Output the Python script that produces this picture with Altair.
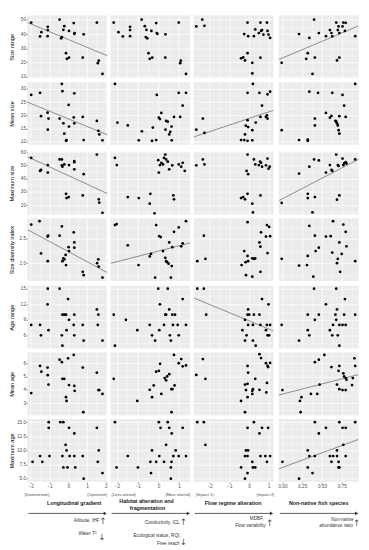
import altair as alt
import pandas as pd

FONT = "Liberation Sans"

# ---------------- axes / labels ----------------
row_titles = ["Size range", "Mean size", "Maximum size", "Size diversity index",
              "Age range", "Mean age", "Maximum age"]
row_ticks = [[10, 20, 30, 40, 50], [10, 15, 20, 25, 30], [20, 30, 40, 50, 60], [2.0, 2.5],
             [6, 9, 12, 15], [3, 4, 5, 6], [5.0, 7.5, 10.0, 12.5, 15.0]]
row_minor = [[15, 25, 35, 45], [12.5, 17.5, 22.5, 27.5], [15, 25, 35, 45, 55], [1.75, 2.25, 2.75],
             [4.5, 7.5, 10.5, 13.5], [2.5, 3.5, 4.5, 5.5, 6.5], [6.25, 8.75, 11.25, 13.75]]
row_domains = [[9, 53], [8.9, 32.5], [13, 60.3], [1.63, 2.93], [3.45, 15.55], [2.1, 6.8], [4.45, 15.55]]
row_formats = ["d", "d", "d", ".1f", "d", "d", ".1f"]
col_ticks = [[-2, -1, 0, 1, 2], [-2, -1, 0, 1], [-2, -1, 0, 1], [0, 0.25, 0.5, 0.75]]
col_minor = [[-1.5, -0.5, 0.5, 1.5], [-1.5, -0.5, 0.5, 1.5], [-2.5, -1.5, -0.5, 0.5],
             [0.125, 0.375, 0.625, 0.875]]
col_domains = [[-2.17, 2.07], [-2.31, 1.54], [-2.8, 1.23], [-0.046, 0.963]]
col_formats = ["d", "d", "d", ".2f"]

col_names = [["Longitudinal gradient"], ["Habitat alteration and", "fragmentation"],
             ["Flow regime alteration"], ["Non-native fish species"]]
end_low = ["(Downstream)", "(Less altered)", "(Impact 1)", ""]
end_high = ["(Upstream)", "(More altered)", "(Impact 2)", ""]
up_notes = [["Altitude, IHF"], ["Conductivity, ICL"], ["MDBF,", "Flow variability"],
            ["Non-native", "abundance ratio"]]
down_notes = [["Water Tª"], ["Ecological status, RQI,", "Free reach"], [], []]

# ---------------- data: size range ----------------
sr_lg_x = [-1.97, -1.50, -1.43, -1.09, -1.09, -1.10, -0.46, -0.34, -0.38, -0.26, -0.21, -0.12, -0.07, 0.04, 0.04, 0.29, 0.34, 0.32, 0.77, 0.82, 1.52, 1.62, 1.57, 1.82]
sr_lg_y = [48.1, 38.3, 41.3, 45.1, 42.8, 38.5, 50.2, 37.9, 37.0, 43.0, 45.5, 26.6, 22.6, 23.5, 42.2, 47.7, 40.7, 40.2, 23.5, 39.8, 48.1, 21.3, 19.6, 12.0]
sr_ha_x = [-2.16, -1.93, -1.72, -1.37, -1.37, -1.37, -0.81, -0.66, -0.58, -0.61, -0.54, -0.48, -0.42, -0.30, -0.34, -0.11, -0.08, -0.05, 0.34, 0.33, 0.98, 1.05, 1.08, 1.33]
sr_ha_y = [48.1, 41.3, 38.3, 45.1, 42.8, 38.5, 50.2, 45.5, 43.0, 37.9, 37.0, 26.6, 22.6, 23.5, 42.2, 47.7, 40.7, 40.2, 39.8, 23.5, 48.1, 19.6, 21.3, 12.0]
sr_fr_x = [-2.67, -2.37, -2.26, -0.25, -0.08, -0.05, 0.24, 0.31, 0.49, 0.57, 0.60, 0.65, 0.72, 0.90, 0.93, 0.98, 1.06, -0.41, -0.30, -0.21, -0.08, 0.16, 0.16, 0.57]
sr_fr_y = [45.3, 50.2, 45.8, 40.0, 48.1, 38.5, 38.5, 43.2, 40.7, 48.1, 42.2, 42.8, 39.6, 48.1, 42.2, 39.6, 37.3, 23.0, 23.6, 21.5, 26.6, 19.8, 12.4, 23.4]
sr_nn_x = [-0.01, 0.21, 0.34, 0.32, 0.30, 0.40, 0.41, 0.46, 0.38, 0.55, 0.60, 0.62, 0.63, 0.68, 0.69, 0.70, 0.71, 0.72, 0.72, 0.76, 0.77, 0.79, 0.80, 0.92]
sr_nn_y = [19.8, 40.0, 37.3, 26.6, 22.6, 50.2, 23.5, 40.7, 12.0, 38.5, 42.8, 40.7, 38.3, 48.1, 21.5, 42.8, 45.3, 23.5, 40.7, 45.3, 48.1, 42.2, 47.9, 38.5]

# ---------------- data: mean size ----------------
ms_lg_x = [-1.97, -1.50, -1.45, -1.10, -1.05, -1.09, -0.46, -0.34, -0.31, -0.26, -0.21, -0.12, -0.09, 0.02, 0.04, 0.29, 0.32, 0.32, 0.77, 0.82, 1.52, 1.60, 1.65, 1.82]
ms_lg_y = [27.7, 28.5, 19.7, 21.0, 18.8, 14.6, 18.8, 31.8, 29.1, 17.0, 13.1, 10.4, 10.7, 23.9, 15.8, 19.2, 17.0, 28.3, 19.4, 10.7, 17.9, 14.2, 12.8, 10.6]
ms_ha_x = [-2.10, -1.98, -1.48, -0.95, -0.80, -0.31, -0.27, -0.11, -0.08, 0.02, 0.07, 0.14, 0.34, 0.37, 0.45, 0.52, 0.57, 0.63, 0.64, 0.75, 0.98, 1.05, 1.17, 1.33]
ms_ha_y = [31.8, 17.3, 16.2, 10.6, 14.0, 10.4, 15.4, 10.7, 27.7, 19.1, 18.6, 20.9, 14.6, 17.9, 17.6, 12.8, 13.8, 15.8, 10.6, 19.4, 28.5, 19.4, 23.7, 28.5]
ms_fr_x = [-2.67, -2.34, -2.26, -0.41, -0.25, -0.21, -0.17, -0.08, -0.08, -0.08, -0.05, 0.16, 0.16, 0.19, 0.33, 0.52, 0.57, 0.65, 0.85, 0.90, 0.93, 0.93, 1.06]
ms_fr_y = [14.6, 18.8, 13.4, 10.7, 10.7, 12.8, 16.1, 28.5, 18.2, 10.4, 15.6, 14.4, 10.6, 31.8, 17.3, 28.5, 19.4, 23.7, 19.4, 20.0, 18.8, 27.9, 28.9]
ms_nn_x = [-0.01, 0.21, 0.32, 0.32, 0.34, 0.45, 0.63, 0.76, 0.92, 0.55, 0.60, 0.62, 0.67, 0.69, 0.70, 0.72, 0.78, 0.80, 0.41, 0.41, 0.71, 0.72, 0.68]
ms_nn_y = [14.4, 10.7, 10.9, 10.4, 28.9, 28.5, 28.5, 27.7, 31.8, 20.9, 19.1, 19.8, 17.9, 17.0, 16.2, 19.7, 23.7, 19.4, 18.8, 16.2, 14.4, 13.1, 17.6]

# ---------------- data: maximum size ----------------
mx_lg_x = [-1.97, -1.50, -1.45, -1.09, -1.09, -0.46, -0.34, -0.31, -0.34, -0.21, -0.12, -0.09, 0.02, 0.04, 0.32, 0.32, 0.32, 0.77, 0.82, 1.52, 1.62, 1.65, 1.82]
mx_lg_y = [55.6, 45.8, 46.5, 44.5, 50.2, 54.4, 54.4, 49.0, 50.0, 50.7, 28.5, 25.3, 26.1, 50.2, 53.2, 52.4, 47.0, 27.3, 43.3, 58.1, 24.4, 21.9, 14.2]
mx_ha_x = [-2.10, -2.01, -1.48, -0.95, -0.42, -0.39, -0.19, -0.01, 0.02, 0.07, 0.14, 0.22, 0.27, 0.33, 0.37, 0.45, 0.52, 0.67, 0.72, 0.75, 0.98, 1.10, 1.17, 1.27]
mx_ha_y = [55.6, 50.2, 26.1, 25.3, 21.1, 28.5, 13.8, 53.9, 44.5, 50.2, 51.9, 50.7, 55.6, 58.1, 54.4, 52.7, 47.0, 50.0, 27.3, 24.4, 50.7, 49.0, 51.9, 45.8]
mx_fr_x = [-2.67, -2.34, -2.26, -0.08, 0.24, 0.31, 0.49, 0.55, 0.60, 0.65, 0.85, 0.93, 0.98, 1.04, -0.13, -0.05, -0.41, -0.30, -0.21, -0.08, 0.16, 0.19, 0.57]
mx_fr_y = [50.0, 54.4, 50.7, 58.1, 54.4, 50.7, 50.2, 52.7, 51.9, 49.0, 50.0, 55.1, 47.5, 49.0, 45.8, 43.3, 25.3, 26.1, 24.4, 28.5, 21.1, 14.5, 27.3]
mx_nn_x = [-0.01, 0.21, 0.34, 0.32, 0.32, 0.40, 0.41, 0.38, 0.46, 0.55, 0.60, 0.62, 0.63, 0.68, 0.69, 0.70, 0.72, 0.76, 0.77, 0.78, 0.80, 0.81, 0.92, 0.71]
mx_nn_y = [21.6, 43.8, 49.0, 28.5, 25.3, 54.4, 26.1, 14.5, 53.7, 44.5, 50.2, 46.5, 45.8, 58.1, 24.1, 50.2, 27.3, 55.1, 50.2, 51.4, 52.4, 51.4, 54.4, 49.5]

# ---------------- data: size diversity index ----------------
sd_lg_x = [-1.97, -1.53, -1.45, -1.10, -1.07, -1.09, -0.46, -0.34, -0.31, -0.26, -0.21, -0.14, -0.12, 0.02, 0.04, 0.29, 0.32, 0.32, 0.77, 0.82, 1.53, 1.60, 1.62, 1.82]
sd_lg_y = [2.80, 2.87, 2.20, 2.55, 2.57, 2.04, 2.57, 2.76, 2.04, 2.10, 2.08, 2.17, 1.96, 2.33, 2.25, 2.64, 2.43, 2.32, 1.82, 1.75, 2.00, 2.08, 1.93, 1.70]
sd_ha_x = [-2.10, -2.02, -1.48, -0.96, -0.42, -0.36, -0.11, 0.04, 0.11, 0.22, 0.33, 0.37, 0.42, 0.49, 0.52, 0.64, 0.67, 0.75, 0.98, 1.10, 1.17, 1.33, -0.16, 0.60]
sd_ha_y = [2.79, 2.81, 2.37, 1.96, 2.14, 2.19, 2.79, 2.56, 2.54, 2.25, 2.11, 2.04, 2.02, 1.99, 2.43, 1.94, 2.33, 2.65, 2.74, 2.35, 2.41, 2.87, 1.70, 1.70]
sd_fr_x = [-2.62, -2.29, -2.21, -0.38, -0.25, -0.18, -0.08, -0.08, -0.05, 0.16, 0.24, 0.31, 0.52, 0.57, 0.60, 0.85, 0.90, 0.93, 1.01, 1.06, -0.16, 0.16, 0.57]
sd_fr_y = [2.04, 2.57, 2.09, 1.96, 2.25, 2.02, 2.85, 2.15, 2.04, 2.10, 2.09, 2.10, 2.43, 2.34, 2.64, 2.55, 2.79, 2.21, 2.75, 2.56, 1.75, 1.72, 1.82]
sd_nn_x = [-0.01, 0.21, 0.31, 0.32, 0.34, 0.39, 0.41, 0.42, 0.46, 0.55, 0.61, 0.63, 0.64, 0.69, 0.70, 0.72, 0.73, 0.75, 0.77, 0.80, 0.81, 0.92]
sd_nn_y = [2.09, 1.95, 1.96, 2.15, 2.77, 1.72, 2.57, 2.25, 2.32, 2.55, 2.56, 2.22, 2.87, 2.00, 2.09, 2.43, 1.82, 2.19, 2.80, 2.65, 2.35, 2.04]

# ---------------- data: age range ----------------
ar_lg_x = [-1.97, -1.50, -1.45, -1.10, -1.09, -1.05, -0.46, -0.34, -0.31, -0.31, -0.21, -0.12, -0.09, -0.01, 0.04, 0.29, 0.32, 0.32, 0.77, 0.82, 1.52, 1.60, 1.57, 1.82]
ar_lg_y = [8, 8, 6, 12, 15, 7, 15, 6, 10, 4, 10, 10, 7, 13, 9, 8, 10, 6, 8, 5, 11, 10, 8, 5]
ar_ha_x = [-2.16, -2.10, -1.57, -1.02, -0.42, -0.31, -0.16, -0.01, 0.04, 0.07, 0.27, 0.33, 0.37, 0.45, 0.52, 0.55, 0.60, 0.70, 0.80, 0.93, 0.98, 1.17, 1.33, 0.67]
ar_ha_y = [10, 4, 9, 7, 8, 6, 5, 15, 7, 12, 8, 10, 10, 15, 11, 6, 5, 8, 10, 8, 6, 13, 8, 10]
ar_fr_x = [-2.62, -2.29, -2.17, -0.05, -0.08, 0.00, -0.21, 0.65, 0.98, 0.24, 0.52, -0.34, -0.05, 0.19, 0.57, 0.90, 0.85, -0.13, 0.93, 1.01, 1.06, -0.21, 0.19, 0.33]
ar_fr_y = [15, 15, 10, 11, 10, 10, 9, 13, 12, 10, 10, 7, 8, 8, 8, 8, 7, 6, 6, 6, 8, 5, 5, 4]
ar_nn_x = [-0.01, 0.21, 0.32, 0.34, 0.32, 0.40, 0.41, 0.46, 0.55, 0.60, 0.63, 0.64, 0.68, 0.69, 0.67, 0.72, 0.70, 0.72, 0.76, 0.78, 0.79, 0.80, 0.92, 0.68]
ar_nn_y = [8, 5, 7, 6, 10, 15, 9, 10, 12, 7, 6, 8, 15, 11, 10, 8, 6, 4, 8, 10, 13, 8, 10, 9]

# ---------------- data: mean age ----------------
ma_lg_x = [-1.97, -1.50, -1.43, -1.10, -1.09, -1.05, -0.46, -0.34, -0.31, -0.21, -0.01, 0.04, 0.29, 0.32, 0.34, 0.77, 1.52, 1.60, 1.65, 1.82, -0.12, -0.09, 0.80]
ma_lg_y = [3.76, 5.79, 5.36, 5.67, 5.10, 4.40, 6.26, 6.07, 4.83, 4.83, 6.36, 4.36, 6.62, 4.29, 3.93, 5.67, 5.29, 3.98, 3.98, 3.69, 3.45, 3.17, 2.33]
ma_ha_x = [-2.16, -1.02, -0.42, -0.31, -0.23, -0.11, 0.02, 0.08, 0.14, 0.30, 0.37, 0.42, 0.52, 0.63, 0.63, 0.67, 0.75, 0.78, 0.98, 1.10, 1.17, 1.33]
ma_ha_y = [4.83, 3.17, 4.00, 3.45, 4.33, 5.36, 5.43, 5.95, 3.69, 4.88, 4.71, 5.00, 5.17, 4.05, 2.33, 4.05, 6.62, 4.33, 6.00, 6.31, 5.76, 5.83]
ma_fr_x = [-2.67, -2.34, -2.21, -0.21, -0.16, -0.08, -0.05, -0.08, 0.16, 0.19, 0.31, 0.52, 0.60, 0.52, 0.85, 0.93, 0.96, 1.06, 0.87, 0.90, -0.41, -0.21, -0.08, 0.16]
ma_fr_y = [5.12, 6.31, 4.83, 4.40, 3.98, 5.79, 5.29, 4.45, 3.93, 4.05, 4.83, 6.67, 6.38, 4.00, 6.00, 5.79, 5.71, 6.02, 3.81, 4.52, 3.17, 2.33, 3.45, 3.69]
ma_nn_x = [0.00, 0.36, 0.41, 0.46, 0.47, 0.53, 0.62, 0.72, 0.71, 0.77, 0.78, 0.80, 0.81, 0.89, 0.69, 0.72, 0.76, 0.80, 0.88, 0.91, 0.92, 0.22, 0.24, 0.44, 0.23]
ma_nn_y = [3.98, 3.69, 6.07, 6.26, 4.40, 6.62, 5.71, 5.79, 5.43, 5.24, 5.00, 4.88, 4.76, 4.88, 4.40, 4.05, 3.98, 3.98, 4.36, 6.36, 5.79, 3.17, 3.45, 3.69, 2.33]

# ---------------- data: maximum age ----------------
xa_lg_x = [-1.90, -1.50, -1.38, -1.04, -1.04, -1.00, -0.42, -0.26, -0.31, -0.26, -0.14, -0.09, -0.04, 0.04, 0.07, 0.32, 0.32, 0.37, 0.77, 0.82, 1.52, 1.57, 1.62, 1.82]
xa_lg_y = [8, 9, 8, 15, 14, 9, 15, 15, 9, 7, 11, 10, 7, 14, 9, 13, 9, 7, 9, 5, 14, 8, 10, 6]
xa_ha_x = [-2.10, -2.02, -1.48, -0.99, -0.36, -0.39, -0.31, -0.11, 0.02, 0.10, 0.04, 0.27, 0.37, 0.45, 0.52, 0.60, 0.60, 0.64, 0.63, 0.72, 0.83, 0.98, 1.17, 1.33]
xa_ha_y = [15, 7, 9, 7, 6, 8, 10, 8, 15, 14, 9, 8, 11, 15, 14, 7, 5, 13, 8, 9, 10, 9, 14, 9]
xa_fr_x = [-2.62, -2.29, -2.21, -0.08, 0.24, 0.65, 0.96, 0.52, -0.16, -0.05, -0.21, -0.08, 0.57, 0.82, 1.06, 0.16, 0.90, -0.41, 0.31, 0.19, -0.08, -0.21]
xa_fr_y = [15, 15, 11, 14, 15, 14, 14, 13, 10, 10, 9, 9, 9, 9, 9, 8, 8, 7, 7, 7, 6, 5]
xa_nn_x = [0.00, 0.21, 0.32, 0.32, 0.34, 0.38, 0.41, 0.41, 0.46, 0.55, 0.60, 0.62, 0.64, 0.69, 0.69, 0.71, 0.71, 0.72, 0.72, 0.76, 0.77, 0.80, 0.92, 0.80]
xa_nn_y = [8, 5, 7, 10, 9, 6, 15, 9, 13, 14, 9, 8, 9, 9, 10, 8, 7, 7, 15, 14, 11, 9, 15, 14]

# ---------------- fitted linear trends (intercept, slope) ----------------
fit_row = [0, 0, 1, 1, 2, 2, 3, 3, 4, 5, 6]
fit_col = [0, 3, 0, 2, 0, 3, 0, 1, 2, 3, 3]
fit_a = [36.2, 23.2, 18.7, 18.85, 42.3, 24.8, 2.24, 2.25, 8.8, 3.68, 7.0]
fit_b = [-5.49, 23.4, -2.89, 2.49, -6.54, 30.9, -0.21, 0.11, -1.58, 1.52, 5.15]

panel_x = [[sr_lg_x, sr_ha_x, sr_fr_x, sr_nn_x], [ms_lg_x, ms_ha_x, ms_fr_x, ms_nn_x],
           [mx_lg_x, mx_ha_x, mx_fr_x, mx_nn_x], [sd_lg_x, sd_ha_x, sd_fr_x, sd_nn_x],
           [ar_lg_x, ar_ha_x, ar_fr_x, ar_nn_x], [ma_lg_x, ma_ha_x, ma_fr_x, ma_nn_x],
           [xa_lg_x, xa_ha_x, xa_fr_x, xa_nn_x]]
panel_y = [[sr_lg_y, sr_ha_y, sr_fr_y, sr_nn_y], [ms_lg_y, ms_ha_y, ms_fr_y, ms_nn_y],
           [mx_lg_y, mx_ha_y, mx_fr_y, mx_nn_y], [sd_lg_y, sd_ha_y, sd_fr_y, sd_nn_y],
           [ar_lg_y, ar_ha_y, ar_fr_y, ar_nn_y], [ma_lg_y, ma_ha_y, ma_fr_y, ma_nn_y],
           [xa_lg_y, xa_ha_y, xa_fr_y, xa_nn_y]]

W, H = 82, 64.5

# layout of the annotation block under each column (pixels relative to panel)
title_pos = [[(48, 86)], [(37, 84), (38, 91)], [(40.5, 86)], [(41, 86)]]
low_pos = [-3, 1, 2, 0]
high_pos = [82, 82, 83, 82]
up_pos = [[(74, 105)], [(71, 107)], [(72, 103), (74, 110)], [(77, 104), (76, 110)]]
up_arrow = [(77.5, 105), (75, 106), (78, 106.5), (80, 107)]
down_pos = [[(71, 118)], [(72, 120), (71, 128)], [], []]
down_arrow = [(76.7, 121), (75, 126), None, None]


def txt(s, x, y, align, size, color, weight="normal", font=FONT):
    return alt.Chart(pd.DataFrame({"t": [s]})).mark_text(
        align=align, baseline="middle", font=font, fontSize=size, color=color, fontWeight=weight
    ).encode(x=alt.value(x), y=alt.value(y), text="t:N")


def annotations(c):
    out = []
    if end_low[c]:
        out.append(txt(end_low[c], low_pos[c], 78, "left", 4.1, "#4D4D4D"))
    if end_high[c]:
        out.append(txt(end_high[c], high_pos[c], 78, "right", 4.1, "#4D4D4D"))
    for s, (x, y) in zip(col_names[c], title_pos[c]):
        out.append(txt(s, x, y, "center", 5.5, "#1A1A1A", "bold"))
    one = pd.DataFrame({"k": [0]})
    out.append(alt.Chart(one).mark_rule(color="#333333", strokeWidth=0.8).encode(
        x=alt.value(1), x2=alt.value(79), y=alt.value(97)))
    out.append(alt.Chart(one).mark_point(shape="triangle-right", filled=True, size=14,
                                         color="#333333", opacity=1).encode(
        x=alt.value(80), y=alt.value(97)))
    for s, (x, y) in zip(up_notes[c], up_pos[c]):
        out.append(txt(s, x, y, "right", 4.8, "#333333"))
    ax, ay = up_arrow[c]
    out.append(txt("↑", ax, ay, "center", 9, "#555555", font="DejaVu Sans"))
    for s, (x, y) in zip(down_notes[c], down_pos[c]):
        out.append(txt(s, x, y, "right", 4.8, "#333333"))
    if down_arrow[c] is not None:
        dx, dy = down_arrow[c]
        out.append(txt("↓", dx, dy, "center", 9, "#555555", font="DejaVu Sans"))
    return out


cells = []
for r in range(7):
    for c in range(4):
        bottom = r == 6
        left = c == 0
        xs = alt.Scale(domain=col_domains[c], nice=False, zero=False)
        ys = alt.Scale(domain=row_domains[r], nice=False, zero=False)
        xax = alt.Axis(values=col_ticks[c], format=col_formats[c], grid=True, labels=bottom,
                       ticks=bottom, domain=False, title=None)
        if left:
            yax = alt.Axis(values=row_ticks[r], format=row_formats[r], grid=True, labels=True,
                           ticks=True, domain=False, title=row_titles[r], titleX=-13, titleY=H / 2)
        else:
            yax = alt.Axis(values=row_ticks[r], grid=True, labels=False, ticks=False,
                           domain=False, title=None)
        xmin = alt.Axis(values=col_minor[c], grid=True, gridWidth=0.4, labels=False, ticks=False,
                        domain=False, title=None, orient="top")
        ymin = alt.Axis(values=row_minor[r], grid=True, gridWidth=0.4, labels=False, ticks=False,
                        domain=False, title=None, orient="right")
        df = pd.DataFrame({"x": panel_x[r][c], "y": panel_y[r][c]})
        layers = [alt.Chart(df).mark_point(opacity=0, size=1).encode(
            x=alt.X("x:Q", scale=xs, axis=xmin), y=alt.Y("y:Q", scale=ys, axis=ymin))]
        main = []
        for i in range(len(fit_row)):
            if fit_row[i] == r and fit_col[i] == c:
                d0, d1 = col_domains[c]
                ldf = pd.DataFrame({"x": [d0, d1],
                                    "y": [fit_a[i] + fit_b[i] * d0, fit_a[i] + fit_b[i] * d1]})
                main.append(alt.Chart(ldf).mark_line(color="#808080", strokeWidth=0.9, clip=True).encode(
                    x=alt.X("x:Q", scale=xs, axis=xax), y=alt.Y("y:Q", scale=ys, axis=yax)))
        main.append(alt.Chart(df).mark_circle(size=8, color="black", opacity=1).encode(
            x=alt.X("x:Q", scale=xs, axis=xax), y=alt.Y("y:Q", scale=ys, axis=yax)))
        if bottom:
            main += annotations(c)
        main_layer = alt.layer(*main)
        cell = alt.layer(layers[0], main_layer).resolve_axis(x="independent", y="independent")
        cells.append(cell.properties(width=W, height=H))

chart = alt.concat(*cells, columns=4, spacing=3.5).properties(padding=0).configure_view(
    fill="#EBEBEB", stroke=None
).configure_axis(
    gridColor="white", gridWidth=0.8, labelFont=FONT, labelFontSize=4.8, labelColor="#4D4D4D",
    tickColor="#333333", tickSize=1.5, tickWidth=0.5, labelPadding=0.5,
    titleFont=FONT, titleFontSize=5.8, titleColor="black", titleFontWeight="normal",
    titlePadding=1.5, domain=False
)

chart.save("out.html", embed_options={"renderer": "svg", "actions": False})
